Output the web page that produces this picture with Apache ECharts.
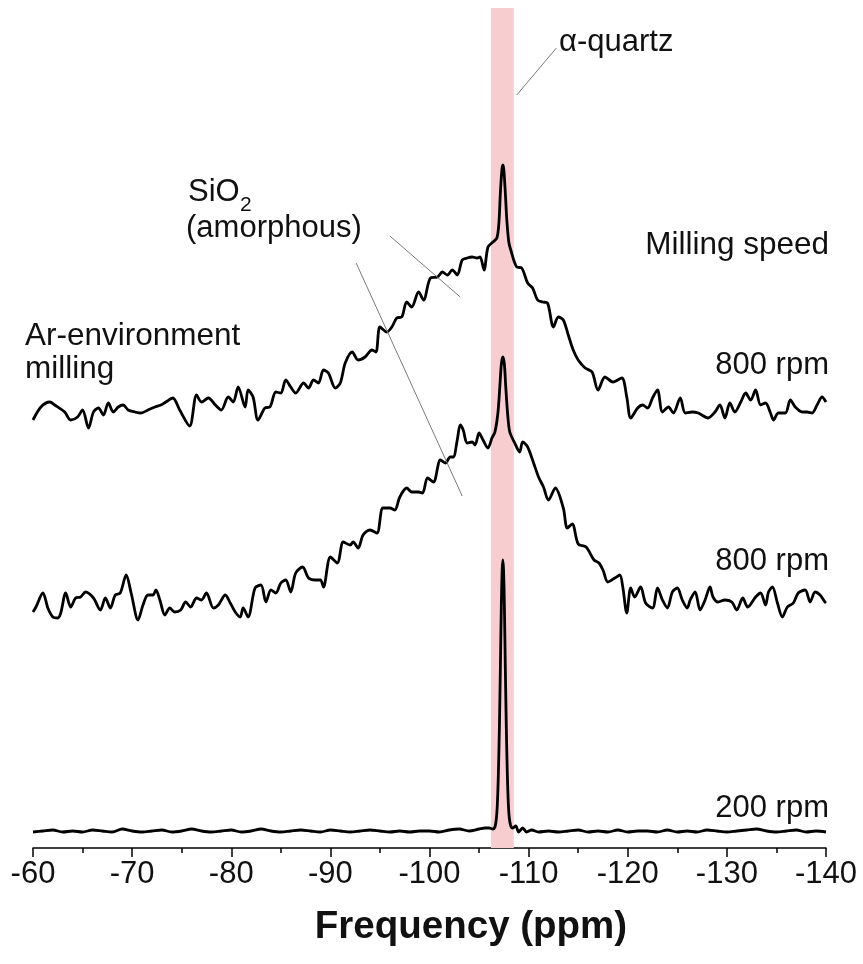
<!DOCTYPE html>
<html>
<head>
<meta charset="utf-8">
<script src="https://cdn.jsdelivr.net/npm/echarts@6/dist/echarts.min.js"></script>
<style>
html,body{margin:0;padding:0;background:#fff;}
#chart{width:863px;height:964px;}
</style>
</head>
<body>
<div id="chart"></div>
<script>
// x-axis tick labels (ppm)
const xTicks = [-60, -70, -80, -90, -100, -110, -120, -130, -140];

// Top trace: Ar-environment milling, 800 rpm (stacked intensity, a.u.)
const ppmTop = [-60.0,-60.8,-61.7,-62.2,-63.2,-63.8,-64.5,-65.0,-65.6,-66.1,-66.6,-67.1,-67.6,-68.1,-68.6,-69.1,-69.6,-70.3,-70.9,-71.6,-72.3,-72.9,-73.4,-74.1,-74.8,-75.8,-76.5,-77.0,-77.7,-78.4,-79.0,-79.7,-80.2,-80.7,-81.4,-81.7,-82.2,-82.7,-83.4,-83.9,-84.5,-85.0,-85.5,-86.0,-86.5,-87.3,-87.8,-88.3,-88.8,-89.3,-89.8,-90.5,-91.0,-91.5,-92.2,-92.8,-93.5,-94.2,-94.6,-95.0,-95.7,-96.2,-96.7,-97.2,-97.7,-98.2,-98.9,-99.4,-100.1,-100.8,-101.3,-101.8,-102.3,-102.8,-103.3,-103.8,-104.3,-104.8,-105.1,-105.5,-105.9,-106.4,-106.8,-107.0,-107.15,-107.3,-107.4,-107.5,-107.65,-107.8,-108.0,-108.2,-108.8,-109.3,-109.9,-110.4,-110.9,-111.4,-111.9,-112.5,-113.0,-113.5,-114.0,-114.5,-115.0,-115.7,-116.4,-117.0,-117.7,-118.5,-119.4,-119.9,-120.3,-121.0,-121.5,-122.0,-122.5,-123.0,-123.5,-124.1,-124.6,-125.3,-125.8,-126.5,-127.1,-128.1,-128.8,-129.3,-129.8,-130.3,-130.8,-131.4,-131.9,-132.4,-132.9,-133.4,-133.9,-134.4,-134.7,-135.2,-135.9,-136.4,-136.9,-137.6,-138.1,-138.6,-139.1,-139.6,-140.0];
const intTop = [428,441,446,443,436,428,431,438,420,436,440,433,445,436,441,443,438,436,435,438,441,443,446,450,438,422,453,446,450,443,438,451,446,461,441,458,451,428,440,441,456,455,468,461,455,465,460,468,465,478,475,460,465,485,496,488,491,498,496,521,516,521,530,531,546,541,556,548,570,571,576,573,578,573,588,590,591,590,591,578,601,606,610,625,655,678,683,678,655,628,606,598,581,580,565,560,548,546,545,521,531,528,513,498,488,480,476,458,471,466,470,451,430,440,443,440,450,458,436,441,435,450,435,436,435,430,436,443,430,445,436,446,455,448,458,443,445,435,428,435,435,448,441,436,436,435,443,451,446];

// Middle trace: 800 rpm
const ppmMid = [-60.0,-60.3,-61.0,-61.5,-62.0,-62.5,-62.8,-63.3,-63.8,-64.3,-64.8,-65.3,-66.1,-66.8,-67.3,-67.8,-68.3,-68.8,-69.4,-69.9,-70.6,-71.1,-71.6,-72.1,-72.4,-72.8,-73.3,-73.8,-74.3,-74.9,-75.4,-75.9,-76.5,-77.0,-77.5,-78.2,-78.7,-79.4,-79.9,-80.4,-80.9,-81.2,-81.7,-82.4,-83.0,-83.5,-84.0,-84.5,-85.0,-85.5,-86.0,-86.5,-87.2,-87.8,-88.5,-89.0,-89.3,-90.0,-90.7,-91.3,-92.0,-92.3,-92.8,-93.3,-94.0,-94.7,-95.3,-96.0,-96.5,-97.0,-97.7,-98.2,-98.9,-99.3,-99.8,-100.4,-101.1,-101.6,-102.1,-102.4,-102.8,-103.1,-103.4,-103.8,-104.3,-104.6,-105.0,-105.4,-105.9,-106.3,-106.6,-106.9,-107.1,-107.25,-107.4,-107.55,-107.7,-107.9,-108.1,-108.6,-109.1,-109.4,-109.9,-110.5,-111.0,-111.5,-112.0,-112.7,-113.5,-113.9,-114.4,-115.0,-115.8,-116.6,-117.1,-117.5,-118.0,-118.7,-119.2,-119.5,-119.9,-120.3,-120.7,-121.3,-121.8,-122.5,-123.0,-123.5,-124.0,-124.5,-125.0,-125.5,-126.0,-126.3,-126.8,-127.3,-127.8,-128.3,-128.6,-129.1,-129.8,-130.5,-131.0,-131.6,-132.1,-132.9,-133.4,-133.9,-134.2,-134.6,-135.1,-135.6,-136.1,-136.7,-137.2,-137.9,-138.4,-138.9,-139.4,-139.9,-140.0];
const intMid = [236,241,255,240,231,230,235,255,241,250,251,256,250,238,250,240,253,255,273,255,228,243,253,253,258,248,233,240,236,238,246,241,250,248,255,240,243,253,245,236,231,240,231,260,263,246,258,255,265,268,256,275,281,270,268,268,261,291,285,306,303,306,300,313,318,315,340,340,338,351,360,356,356,355,370,366,388,385,391,391,408,423,418,405,406,403,415,408,400,410,416,435,462,484,491,484,460,432,416,405,396,406,401,385,371,361,348,360,340,320,324,304,301,288,285,278,266,270,273,261,235,260,251,261,245,240,260,248,240,256,260,248,240,248,256,238,248,261,251,246,248,246,238,250,241,251,255,243,256,261,245,231,241,245,255,258,246,256,253,246,245];

// Bottom trace: 200 rpm
const ppmLow = [-60,-61,-62,-63,-64,-65,-66,-67,-68,-69,-70,-71,-72,-73,-74,-75,-76,-77,-78,-79,-80,-81,-82,-83,-84,-85,-86,-87,-88,-89,-90,-91,-92,-93,-94,-95,-96,-97,-98,-99,-100,-101,-102,-103,-104,-105,-105.6,-106.0,-106.4,-106.6,-106.75,-106.85,-106.95,-107.05,-107.15,-107.25,-107.33,-107.4,-107.47,-107.55,-107.65,-107.75,-107.85,-107.95,-108.05,-108.2,-108.4,-108.7,-109,-109.4,-109.8,-110.3,-111,-112,-113,-114,-115,-116,-117,-118,-119,-120,-121,-122,-123,-124,-125,-126,-127,-128,-129,-130,-131,-132,-133,-134,-135,-136,-137,-138,-139,-140];
const intLow = [16,17,18,16,17,16,18,17,16,19,17,16,17,18,16,17,19,17,16,17,18,16,17,19,17,16,17,18,17,16,18,17,16,17,18,17,16,17,16,17,17,16,18,19,17,19,20,20,19,21,30,45,75,120,180,245,278,288,278,245,180,120,75,45,30,22,20,22,16,20,16,18,16,17,16,17,18,16,17,16,18,16,17,17,16,18,16,17,16,18,17,16,17,18,19,17,16,17,18,16,17,16];

// alpha-quartz band (ppm)
const quartzBand = [-106.2, -108.5];

// Annotation leader lines, in data space [ppm, intensity]
const leaderQuartz = [[-108.8, 753], [-112.8, 800]];
const leaderSiO2a = [[-96.0, 612], [-103.1, 551]];
const leaderSiO2b = [[-92.6, 585], [-103.3, 352]];

const zip = (xs, ys) => xs.map((x, i) => [x, ys[i]]);

const chart = echarts.init(document.getElementById('chart'), null, {renderer: 'canvas'});
const FONT = '"Liberation Sans", Arial, sans-serif';
const lineStyle = {color: '#000', width: 2.8};
const txt = (text, x, y, align, size, weight) => ({
  type: 'text', x: x, y: y, silent: true,
  style: {text: text, fill: '#111', font: (weight || 'normal') + ' ' + size + 'px ' + FONT,
          textAlign: align, textVerticalAlign: 'middle'}
});

chart.setOption({
  animation: false,
  backgroundColor: '#fff',
  grid: {left: 33, right: 37, top: 8, bottom: 116, containLabel: false},
  xAxis: {
    type: 'value', min: -140, max: -60, interval: 10, inverse: true,
    axisLine: {show: true, lineStyle: {color: '#000', width: 1.5}},
    axisTick: {show: true, inside: false, length: 9, lineStyle: {color: '#000', width: 1.5}},
    minorTick: {show: true, splitNumber: 2, length: 5, lineStyle: {color: '#000', width: 1.5}},
    splitLine: {show: false},
    axisLabel: {
      show: true, margin: 11, color: '#111', fontSize: 31, fontFamily: FONT,
      formatter: v => xTicks.indexOf(v) >= 0 ? String(v) : ''
    }
  },
  yAxis: {type: 'value', min: 0, max: 840, show: false, splitLine: {show: false}},
  series: [
    {
      type: 'line', name: '200 rpm', data: zip(ppmLow, intLow), showSymbol: false,
      smooth: 0.3, lineStyle: lineStyle, z: 3,
      markArea: {
        silent: true, z: 1,
        itemStyle: {color: '#f8cdd0'},
        data: [[{xAxis: quartzBand[0]}, {xAxis: quartzBand[1]}]]
      }
    },
    {
      type: 'line', name: '800 rpm', data: zip(ppmMid, intMid), showSymbol: false,
      smooth: 0.3, lineStyle: lineStyle, z: 3
    },
    {
      type: 'line', name: 'Ar 800 rpm', data: zip(ppmTop, intTop), showSymbol: false,
      smooth: 0.3, lineStyle: lineStyle, z: 3,
      markLine: {
        silent: true, symbol: ['none', 'none'], label: {show: false},
        lineStyle: {color: '#7a7a7a', width: 1, type: 'solid'},
        data: [
          [{coord: leaderQuartz[0]}, {coord: leaderQuartz[1]}],
          [{coord: leaderSiO2a[0]}, {coord: leaderSiO2a[1]}],
          [{coord: leaderSiO2b[0]}, {coord: leaderSiO2b[1]}]
        ]
      }
    }
  ],
  graphic: [
    txt('α-quartz', 559, 42, 'left', 31),
    txt('SiO', 188, 192, 'left', 31),
    txt('2', 240, 205, 'left', 21),
    txt('(amorphous)', 186, 228, 'left', 31),
    txt('Milling speed', 829, 245, 'right', 31.5),
    txt('Ar-environment', 25, 336, 'left', 31.5),
    txt('milling', 25, 369, 'left', 31.5),
    txt('800 rpm', 829, 365, 'right', 31),
    txt('800 rpm', 829, 561, 'right', 31),
    txt('200 rpm', 829, 808, 'right', 31),
    txt('Frequency (ppm)', 471, 927, 'center', 38.5, 'bold')
  ]
});
</script>
</body>
</html>
